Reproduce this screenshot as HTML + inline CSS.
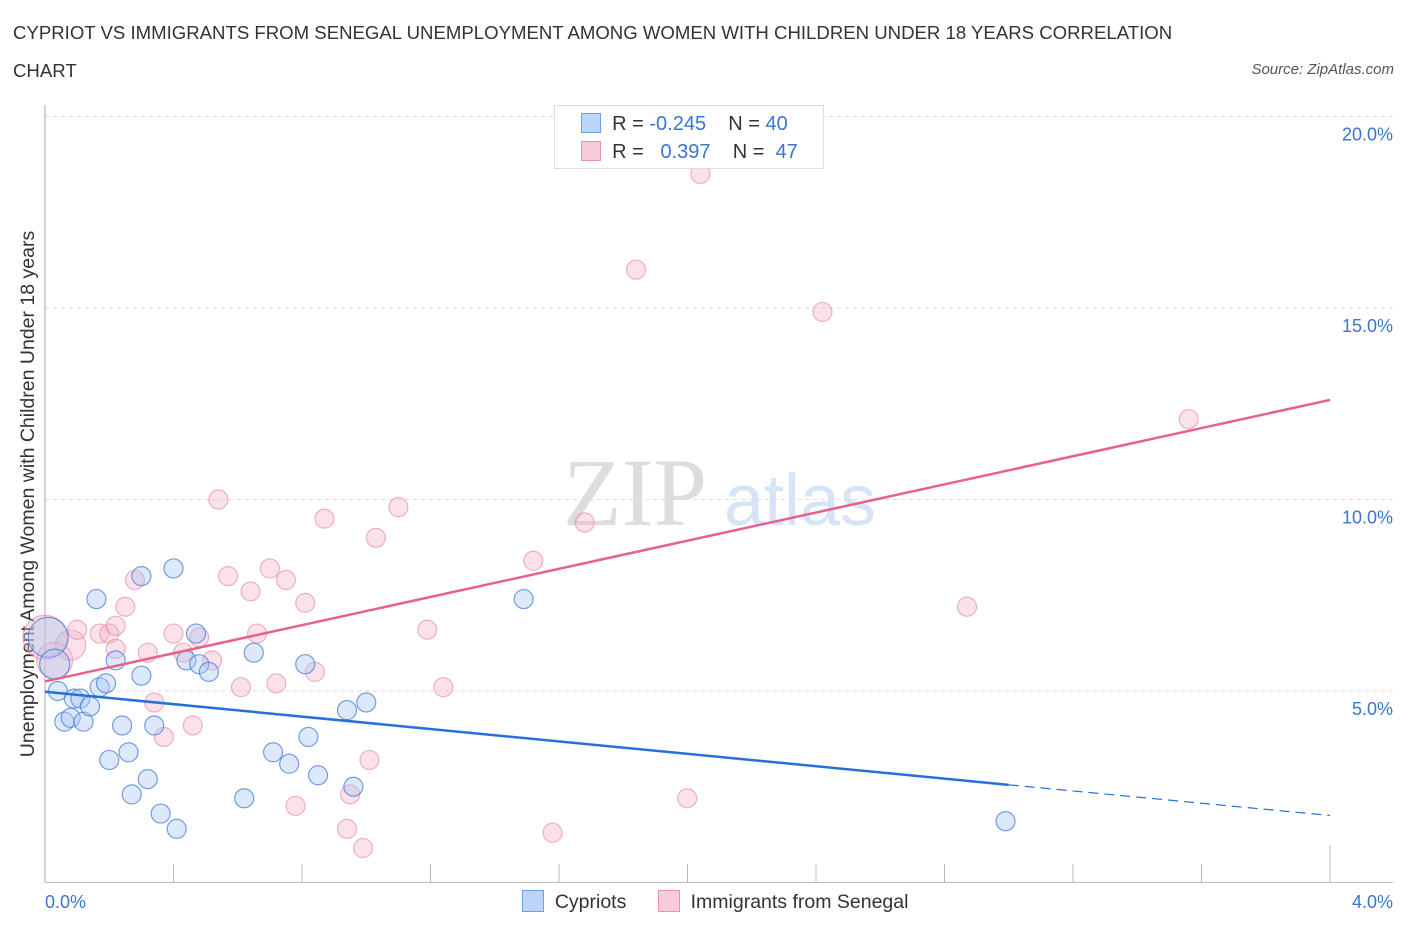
<!DOCTYPE html>
<html><head><meta charset="utf-8"><style>
body{margin:0;background:#fff;font-family:"Liberation Sans",sans-serif}
#wrap{position:relative;width:1406px;height:930px;overflow:hidden}
.t{position:absolute;white-space:nowrap}
</style></head><body>
<div id="wrap">
<div class="t" style="left:13px;top:14px;font-size:18.6px;color:#333;line-height:38px">CYPRIOT VS IMMIGRANTS FROM SENEGAL UNEMPLOYMENT AMONG WOMEN WITH CHILDREN UNDER 18 YEARS CORRELATION<br>CHART</div>
<div class="t" style="right:12px;top:61px;font-size:15px;font-style:italic;color:#555">Source: ZipAtlas.com</div>
<svg id="svg" width="1406" height="930" style="position:absolute;left:0;top:0"></svg>
</div>
<script>
const xTicks=[0,4];
const yTicks=[5,10,15,20];
const blueX=[0.01,0.03,0.04,0.06,0.08,0.09,0.11,0.12,0.14,0.16,0.17,0.19,0.2,0.22,0.24,0.26,0.27,0.3,0.3,0.32,0.34,0.36,0.4,0.41,0.44,0.47,0.48,0.51,0.62,0.65,0.71,0.76,0.81,0.82,0.85,0.94,0.96,1.0,1.49,2.99];
const blueY=[6.4,5.7,5.0,4.2,4.3,4.8,4.8,4.2,4.6,7.4,5.1,5.2,3.2,5.8,4.1,3.4,2.3,5.4,8.0,2.7,4.1,1.8,8.2,1.4,5.8,6.5,5.7,5.5,2.2,6.0,3.4,3.1,5.7,3.8,2.8,4.5,2.5,4.7,7.4,1.6];
const blueR=[20,15,9.5,9.5,9.5,9.5,9.5,9.5,9.5,9.5,9.5,9.5,9.5,9.5,9.5,9.5,9.5,9.5,9.5,9.5,9.5,9.5,9.5,9.5,9.5,9.5,9.5,9.5,9.5,9.5,9.5,9.5,9.5,9.5,9.5,9.5,9.5,9.5,9.5,9.5];
const pinkX=[0.0,0.03,0.08,0.1,0.17,0.2,0.22,0.25,0.28,0.32,0.34,0.37,0.4,0.43,0.46,0.48,0.52,0.54,0.57,0.61,0.64,0.66,0.7,0.72,0.75,0.78,0.81,0.84,0.87,0.94,0.95,0.99,1.01,1.03,1.1,1.19,1.24,1.52,1.58,1.68,1.84,1.999,2.04,2.42,2.87,3.56,0.22];
const pinkY=[6.4,5.8,6.2,6.6,6.5,6.5,6.7,7.2,7.9,6.0,4.7,3.8,6.5,6.0,4.1,6.4,5.8,10.0,8.0,5.1,7.6,6.5,8.2,5.2,7.9,2.0,7.3,5.5,9.5,1.4,2.3,0.9,3.2,9.0,9.8,6.6,5.1,8.4,1.3,9.4,16.0,2.2,18.5,14.9,7.2,12.1,6.1];
const pinkR=[22,18,15,9.5,9.5,9.5,9.5,9.5,9.5,9.5,9.5,9.5,9.5,9.5,9.5,9.5,9.5,9.5,9.5,9.5,9.5,9.5,9.5,9.5,9.5,9.5,9.5,9.5,9.5,9.5,9.5,9.5,9.5,9.5,9.5,9.5,9.5,9.5,9.5,9.5,9.5,9.5,9.5,9.5,9.5,9.5,9.5];
const blueTrend=[[0,4.98],[3.0,2.55],[4,1.75]];
const pinkTrend=[[0,5.25],[4,12.6]];
const X0=45,X1=1330,Y0=882.5,YS=191.5/5;
const sx=v=>X0+(v/4)*(X1-X0), sy=v=>Y0-v*YS;
const svg=document.getElementById('svg');const NS='http://www.w3.org/2000/svg';
function mk(tag,a,parent){const e=document.createElementNS(NS,tag);for(const k in a)e.setAttribute(k,a[k]);(parent||svg).appendChild(e);return e;}
let wm=mk('text',{x:635,y:525,'font-size':96,'font-family':'Liberation Serif,serif','text-anchor':'middle',fill:'#ddd'});wm.textContent='ZIP';


let wm2=mk('text',{x:800,y:525,'font-size':72,'font-family':'Liberation Sans,sans-serif','text-anchor':'middle',fill:'#d6e4f5'});wm2.textContent='atlas';


yTicks.forEach(v=>{
 const g=mk('line',{x1:X0,x2:1393,y1:sy(v),y2:sy(v),stroke:'#ddd','stroke-dasharray':'4 4'});
 
 
 const t=mk('text',{x:1393,y:sy(v)+24,'text-anchor':'end','font-size':18,fill:'#3a75d4'});t.textContent=v.toFixed(1)+'%';
 
 
});
let ax=mk('line',{x1:X0,x2:X0,y1:105,y2:Y0,stroke:'#aaa'});


let bx=mk('line',{x1:X0,x2:1393,y1:Y0,y2:Y0,stroke:'#bbb'});


for(let i=1;i<=10;i++){const x=X0+i*(X1-X0)/10;const tk=mk('line',{x1:x,x2:x,y1:i==10?845:864,y2:Y0,stroke:'#bbb'});
 
 }
xTicks.forEach(v=>{const t=mk('text',{x:v==0?45:1393,y:908,'text-anchor':v==0?'start':'end','font-size':18,fill:'#3a75d4'});t.textContent=v.toFixed(1)+'%';
 
 });
let yt=mk('text',{x:0,y:0,'font-size':19.5,fill:'#333','text-anchor':'middle',transform:'translate(34,494) rotate(-90)'});yt.textContent='Unemployment Among Women with Children Under 18 years';


function dots(xs,ys,rs,fill,stroke,name){xs.forEach((v,i)=>{const c=mk('circle',{cx:sx(v),cy:sy(ys[i]),r:rs[i],fill:fill,stroke:stroke,'stroke-width':1.2});
 
 });}
dots(pinkX,pinkY,pinkR,'rgba(246,180,200,0.4)','rgba(232,130,160,0.6)','senegal-point');
dots(blueX,blueY,blueR,'rgba(170,200,242,0.4)','rgba(60,120,220,0.7)','cypriot-point');
let bl=mk('line',{x1:sx(blueTrend[0][0]),y1:sy(blueTrend[0][1]),x2:sx(blueTrend[1][0]),y2:sy(blueTrend[1][1]),stroke:'#2670d8','stroke-width':2.5});


let bd=mk('line',{x1:sx(blueTrend[1][0]),y1:sy(blueTrend[1][1]),x2:sx(blueTrend[2][0]),y2:sy(blueTrend[2][1]),stroke:'#2670d8','stroke-width':1.2,'stroke-dasharray':'10 6'});


let pl=mk('line',{x1:sx(pinkTrend[0][0]),y1:sy(pinkTrend[0][1]),x2:sx(pinkTrend[1][0]),y2:sy(pinkTrend[1][1]),stroke:'#e8608e','stroke-width':2.5});


</script>
<div class="t" style="left:554px;top:105px;width:268px;height:62px;border:1px solid #ddd;background:#fff;font-size:20px;color:#333">
 <div style="position:absolute;left:26px;top:7px"><span style="display:inline-block;width:18px;height:18px;background:#bcd5f6;border:1px solid #6d9ee6;vertical-align:-3px"></span>&nbsp; R = <span style="color:#3a75d4">-0.245</span>&nbsp;&nbsp;&nbsp; N = <span style="color:#3a75d4">40</span></div>
 <div style="position:absolute;left:26px;top:35px"><span style="display:inline-block;width:18px;height:18px;background:#f9cad8;border:1px solid #e892ae;vertical-align:-3px"></span>&nbsp; R = &nbsp; <span style="color:#3a75d4">0.397</span>&nbsp;&nbsp;&nbsp; N = &nbsp;<span style="color:#3a75d4">47</span></div>
</div>
<div class="t" style="left:522px;top:890px;font-size:19.5px;color:#333">
 <span><span style="display:inline-block;width:20px;height:20px;background:#bcd5f6;border:1px solid #6d9ee6;vertical-align:-4px"></span>&nbsp; Cypriots</span>
 <span style="margin-left:26px"><span style="display:inline-block;width:20px;height:20px;background:#f9cad8;border:1px solid #e892ae;vertical-align:-4px"></span>&nbsp; Immigrants from Senegal</span>
</div>
</body></html>
